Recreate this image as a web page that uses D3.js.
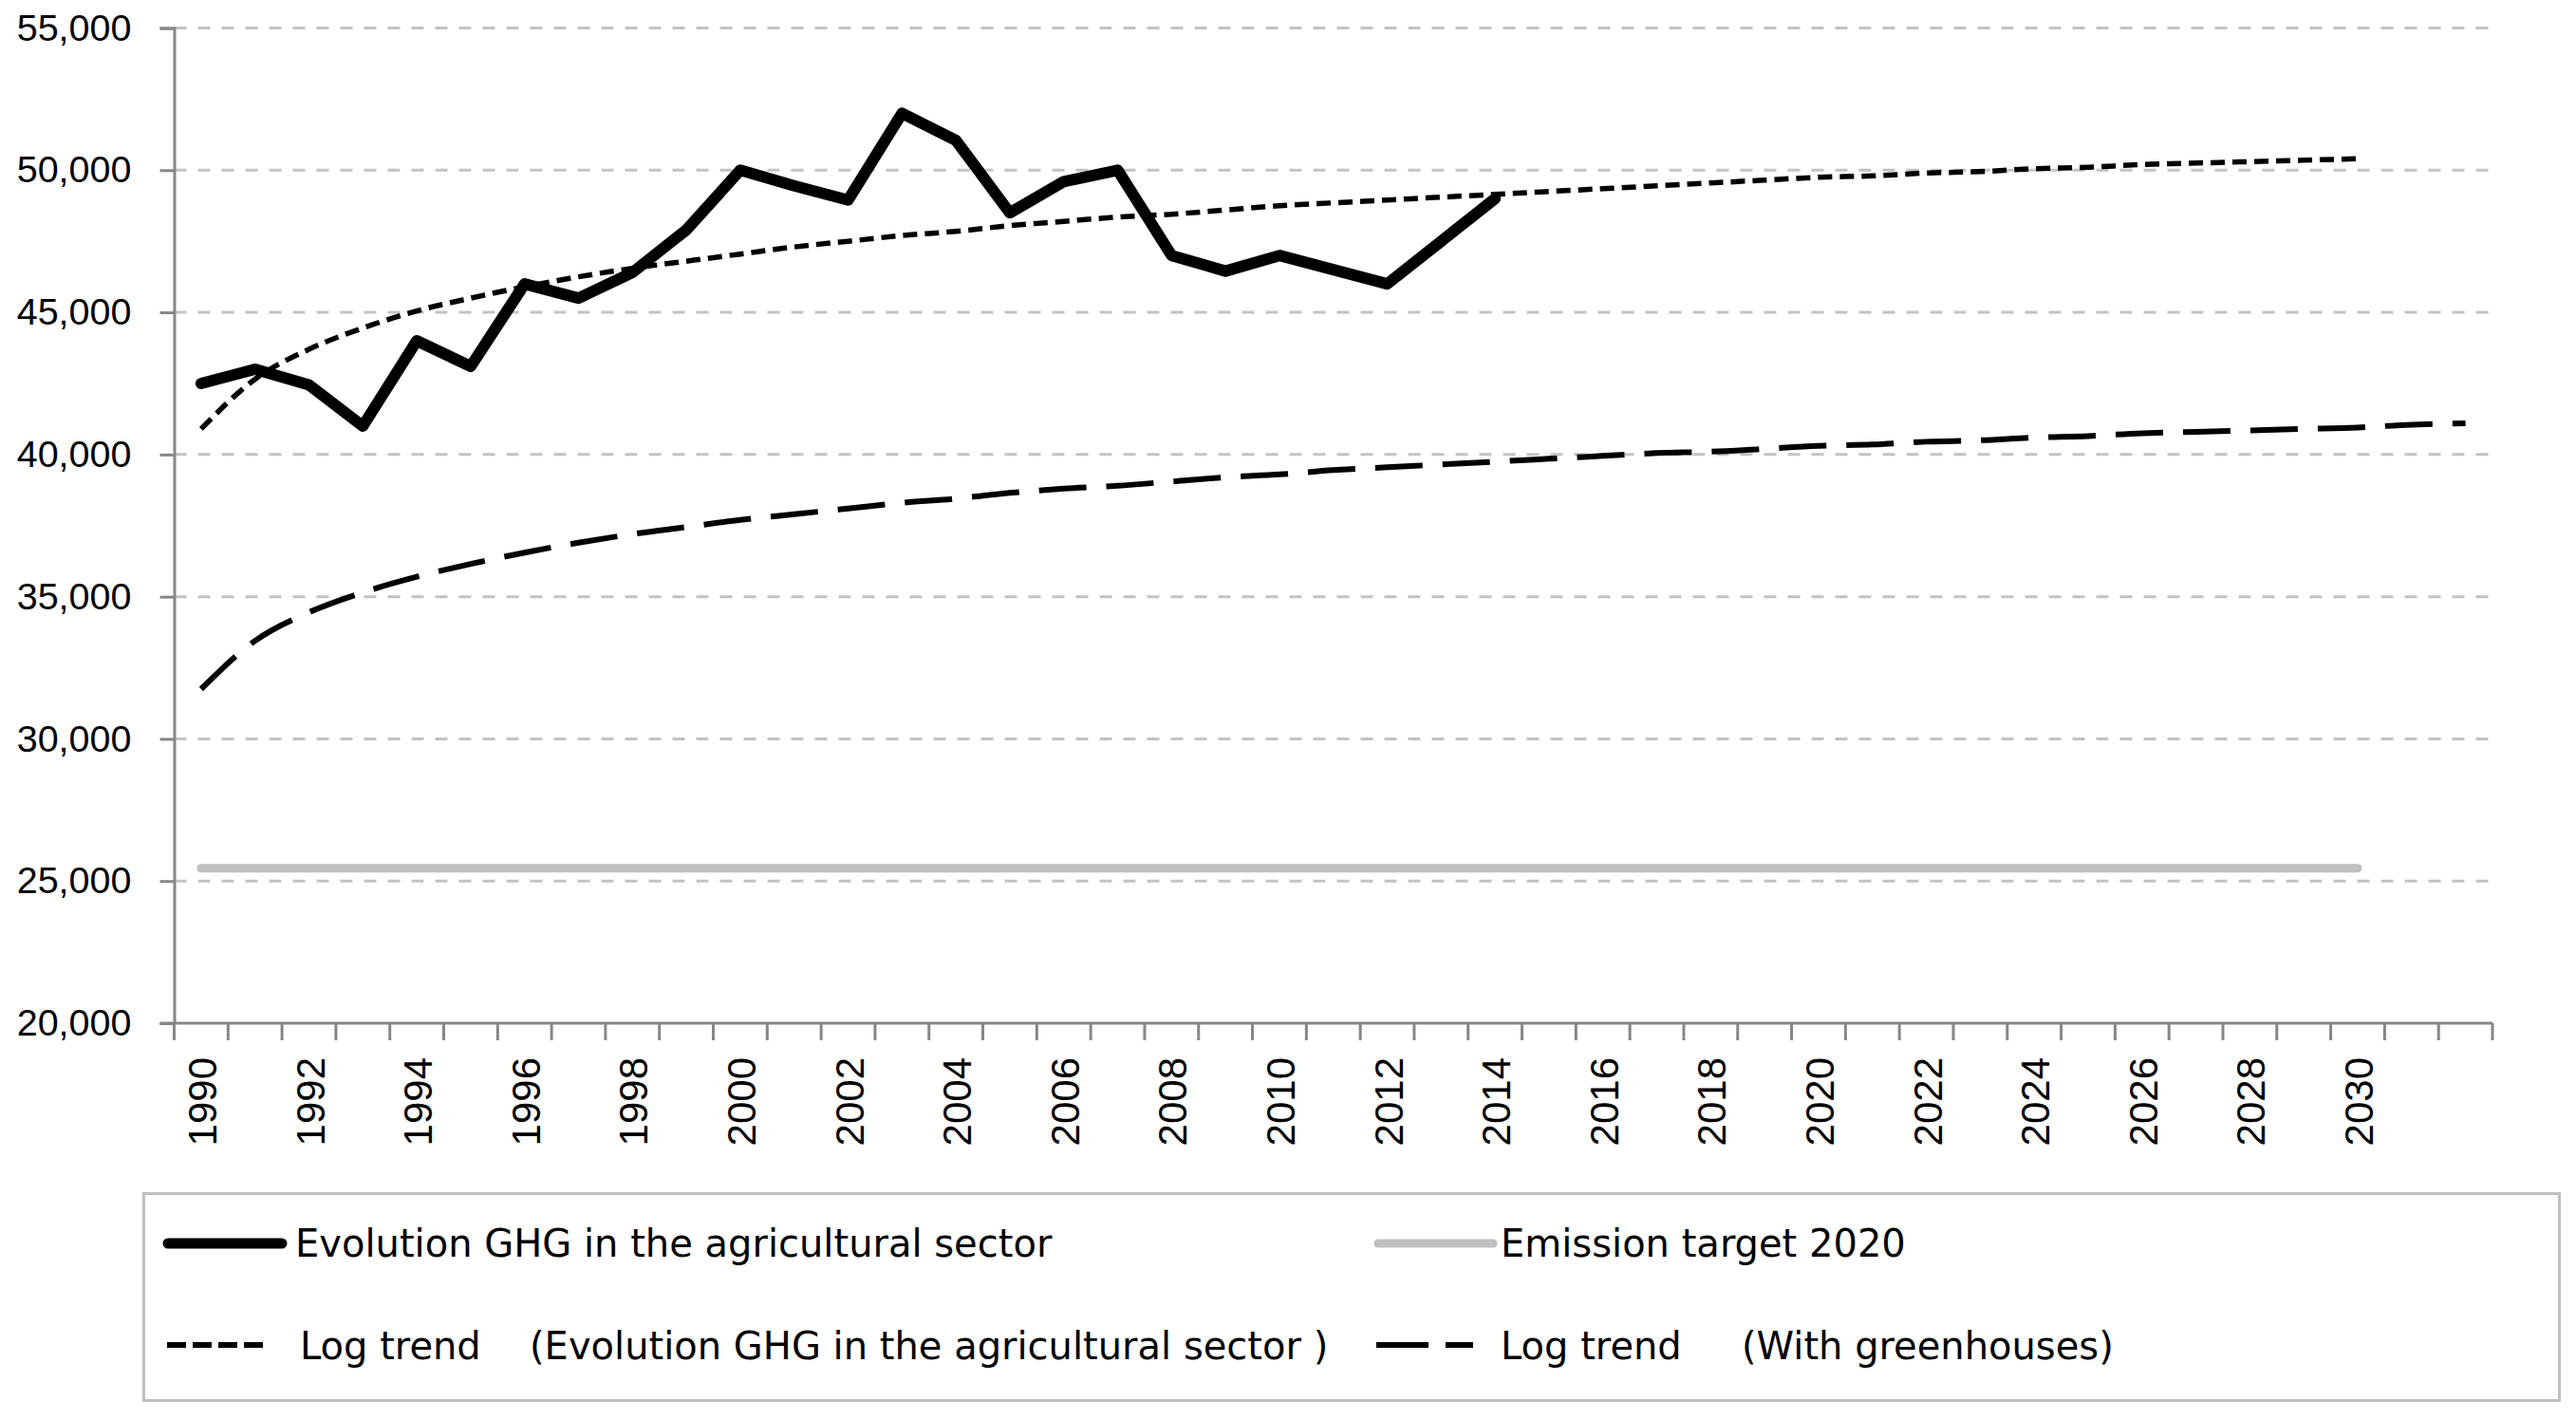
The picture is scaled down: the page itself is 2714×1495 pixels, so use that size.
<!DOCTYPE html>
<html>
<head>
<meta charset="utf-8">
<script src="https://cdn.jsdelivr.net/npm/d3@7"></script>
<style>
  body { margin: 0; background: #fff; }
  svg { display: block; }
</style>
</head>
<body>
<svg id="chart" width="2714" height="1495"></svg>
<script>
// categories on the x axis (the last two are the trend's forecast periods, no label)
const years = [1990, 1991, 1992, 1993, 1994, 1995, 1996, 1997, 1998, 1999,
    2000, 2001, 2002, 2003, 2004, 2005, 2006, 2007, 2008, 2009,
    2010, 2011, 2012, 2013, 2014, 2015, 2016, 2017, 2018, 2019,
    2020, 2021, 2022, 2023, 2024, 2025, 2026, 2027, 2028, 2029,
    2030, 2031, 2032];

const yearLabels = ["1990", "1992", "1994", "1996", "1998", "2000", "2002", "2004", "2006", "2008",
    "2010", "2012", "2014", "2016", "2018", "2020", "2022", "2024", "2026", "2028", "2030"];

const yTicks = [20000, 25000, 30000, 35000, 40000, 45000, 50000, 55000];

// Evolution GHG in the agricultural sector, 1990-2014
const ghgValues = [42500, 43000, 42450, 41000, 44000, 43100, 46000, 45500, 46400, 47900,
    50000, 49450, 48950, 52000, 51050, 48500, 49600, 50000, 47000, 46450,
    47000, 46500, 46000, 47500, 49000];

// log trend of the series above, 1990-2030
const ghgTrend = [40900, 42650, 43700, 44450, 45050, 45500, 45900, 46250, 46550, 46800,
    47050, 47300, 47500, 47700, 47850, 48050, 48200, 48350, 48450, 48600,
    48750, 48850, 48950, 49050, 49150, 49250, 49350, 49450, 49550, 49650,
    49750, 49800, 49900, 49950, 50050, 50100, 50200, 50250, 50300, 50350,
    50400];

// log trend (with greenhouses), 1990-2032
const greenhouseTrend = [31750, 33450, 34450, 35150, 35700, 36150, 36550, 36900, 37200, 37450,
    37700, 37900, 38100, 38300, 38450, 38650, 38800, 38900, 39050, 39200,
    39300, 39450, 39550, 39650, 39750, 39850, 39950, 40050, 40100, 40200,
    40300, 40350, 40450, 40500, 40600, 40650, 40750, 40800, 40850, 40900,
    40950, 41050, 41100];

// emission target 2020, flat from 1990 to 2030
const targetValue = 25450;
const targetYears = [1990, 2030];

const legendNames = ["Evolution GHG in the agricultural sector", "Emission target 2020",
    "Log trend", "(Evolution GHG in the agricultural sector )", "(With greenhouses)"];

const AXIS_COLOR = "#868686";
const GRID_COLOR = "#c3c3c3";
const TARGET_COLOR = "#bfbfbf";
const AXIS_FONT = "'Liberation Sans', Arial, sans-serif";
const LEGEND_FONT = "'DejaVu Sans', sans-serif";

const svg = d3.select("#chart");
svg.append("rect").attr("width", 2714).attr("height", 1495).attr("fill", "#fff");

const x = d3.scaleBand().domain(years).range([183.5, 2626]).padding(0);
const y = d3.scaleLinear().domain([20000, 55000]).range([1078, 29.5]);
const cx = yr => x(yr) + x.bandwidth() / 2;

// gridlines
svg.append("g").selectAll("line")
    .data(yTicks.filter(d => d > 20000))
    .join("line")
    .attr("x1", x.range()[0]).attr("x2", x.range()[1])
    .attr("y1", d => y(d)).attr("y2", d => y(d))
    .attr("stroke", GRID_COLOR).attr("stroke-width", 3)
    .attr("stroke-dasharray", "13,12");

// y axis
const yAxis = svg.append("g")
    .attr("transform", `translate(${x.range()[0]},0)`)
    .call(d3.axisLeft(y).tickValues(yTicks).tickFormat(d3.format(",")).tickSize(15).tickPadding(30));
yAxis.select(".domain").attr("stroke", AXIS_COLOR).attr("stroke-width", 3);
yAxis.selectAll(".tick line").attr("stroke", AXIS_COLOR).attr("stroke-width", 3);
yAxis.selectAll(".tick text")
    .attr("font-family", AXIS_FONT).attr("font-size", 39.5).attr("fill", "#000");

// x axis: ticks on category boundaries, labels every second year
const xAxis = svg.append("g").attr("transform", `translate(0,${y.range()[0]})`);
xAxis.append("line")
    .attr("x1", x.range()[0] - 15).attr("x2", x.range()[1])
    .attr("stroke", AXIS_COLOR).attr("stroke-width", 3);
xAxis.selectAll(".xtick")
    .data(years.map(d => x(d)).concat([x.range()[1]]))
    .join("line")
    .attr("class", "xtick")
    .attr("x1", d => d).attr("x2", d => d)
    .attr("y1", 0).attr("y2", 18)
    .attr("stroke", AXIS_COLOR).attr("stroke-width", 3);
xAxis.selectAll(".xlabel")
    .data(yearLabels)
    .join("text")
    .attr("class", "xlabel")
    .attr("transform", d => `translate(${cx(+d) + 16},36) rotate(-90)`)
    .attr("text-anchor", "end")
    .attr("font-family", AXIS_FONT).attr("font-size", 42)
    .attr("fill", "#000")
    .text(d => d);

const line = d3.line().x(d => cx(d[0])).y(d => y(d[1]));

// emission target
svg.append("path")
    .datum(targetYears.map(yr => [yr, targetValue]))
    .attr("d", line)
    .attr("fill", "none").attr("stroke", TARGET_COLOR).attr("stroke-width", 9)
    .attr("stroke-linecap", "round");

// GHG series
svg.append("path")
    .datum(ghgValues.map((v, i) => [years[i], v]))
    .attr("d", line)
    .attr("fill", "none").attr("stroke", "#000").attr("stroke-width", 12)
    .attr("stroke-linejoin", "round").attr("stroke-linecap", "round");

// trends
svg.append("path")
    .datum(ghgTrend.map((v, i) => [years[i], v]))
    .attr("d", d3.line().curve(d3.curveMonotoneX).x(d => cx(d[0])).y(d => y(d[1])))
    .attr("fill", "none").attr("stroke", "#000").attr("stroke-width", 5.5)
    .attr("stroke-dasharray", "15,8");

svg.append("path")
    .datum(greenhouseTrend.map((v, i) => [years[i], v]))
    .attr("d", d3.line().curve(d3.curveMonotoneX).x(d => cx(d[0])).y(d => y(d[1])))
    .attr("fill", "none").attr("stroke", "#000").attr("stroke-width", 6)
    .attr("stroke-dasharray", "50,21");

// legend
const legend = svg.append("g");
legend.append("rect")
    .attr("x", 151.5).attr("y", 1257.5).attr("width", 2545).attr("height", 218)
    .attr("fill", "#fff").attr("stroke", "#c0c0c0").attr("stroke-width", 3);

function legendText(tx, ty, str) {
    legend.append("text")
        .attr("x", tx).attr("y", ty)
        .attr("font-family", LEGEND_FONT).attr("font-size", 40)
        .attr("fill", "#000")
        .text(str);
}

legend.append("line")
    .attr("x1", 177).attr("x2", 297).attr("y1", 1310).attr("y2", 1310)
    .attr("stroke", "#000").attr("stroke-width", 11).attr("stroke-linecap", "round");
legendText(311, 1324, legendNames[0]);

legend.append("line")
    .attr("x1", 1452).attr("x2", 1573).attr("y1", 1310).attr("y2", 1310)
    .attr("stroke", TARGET_COLOR).attr("stroke-width", 9).attr("stroke-linecap", "round");
legendText(1581, 1324, legendNames[1]);

legend.append("line")
    .attr("x1", 176).attr("x2", 278).attr("y1", 1417).attr("y2", 1417)
    .attr("stroke", "#000").attr("stroke-width", 6).attr("stroke-dasharray", "20,7");
legendText(316, 1432, legendNames[2]);
legendText(558, 1432, legendNames[3]);

legend.append("line")
    .attr("x1", 1450).attr("x2", 1552).attr("y1", 1417).attr("y2", 1417)
    .attr("stroke", "#000").attr("stroke-width", 6).attr("stroke-dasharray", "55,18");
legendText(1581, 1432, legendNames[2]);
legendText(1835, 1432, legendNames[4]);
</script>
</body>
</html>
